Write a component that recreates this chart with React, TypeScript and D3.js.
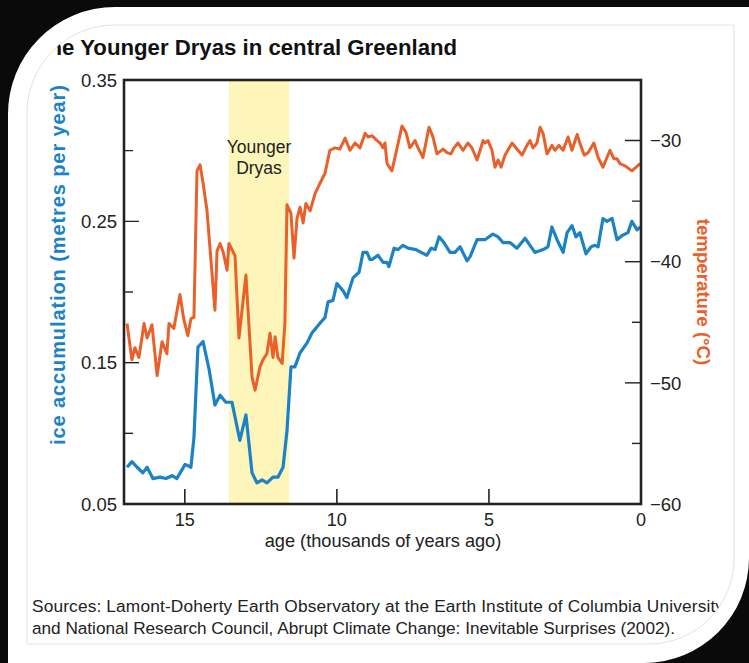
import React from 'react';
import * as d3 from 'd3';

const W = 749;
const H = 663;

// axis ticks
const ageTicks = [15, 10, 5, 0];
const accLabels = [0.35, 0.25, 0.15, 0.05];
const accMajor = [0.25, 0.15];
const accMinor = [0.3, 0.2, 0.1];
const tempLabels = [-30, -40, -50, -60];
const tempMajor = [-30, -40, -50];
const tempMinor = [-35, -45, -55];
const youngerDryas = [13.55, 11.57];

// temperature record (°C)
const tempAge = [
  16.9, 16.74, 16.64, 16.51, 16.34, 16.24, 16.08, 15.91, 15.75, 15.59, 15.52, 15.36, 15.16, 15.03, 14.9, 14.8,
  14.7, 14.6, 14.5, 14.4, 14.27, 14.01, 13.94, 13.84, 13.74, 13.61, 13.55, 13.35, 13.22, 12.99, 12.79, 12.69,
  12.53, 12.43, 12.3, 12.2, 12.1, 12.03, 11.94, 11.8, 11.71, 11.64, 11.51, 11.41, 11.31, 11.21, 11.11, 11.02,
  10.88, 10.72, 10.55, 10.39, 10.23, 10.06, 9.9, 9.73, 9.57, 9.4, 9.24, 9.07, 8.98, 8.84, 8.68, 8.58, 8.48,
  8.42, 8.35, 8.19, 8.02, 7.86, 7.73, 7.6, 7.43, 7.33, 7.17, 6.97, 6.84, 6.71, 6.51, 6.38, 6.25, 6.15, 6.02,
  5.85, 5.69, 5.56, 5.39, 5.19, 5.13, 5.03, 4.9, 4.8, 4.7, 4.6, 4.47, 4.24, 4.08, 3.91, 3.75, 3.65, 3.55,
  3.42, 3.32, 3.22, 3.09, 2.93, 2.83, 2.7, 2.56, 2.4, 2.27, 2.1, 2.01, 1.87, 1.74, 1.55, 1.41, 1.25, 1.02,
  0.89, 0.79, 0.69, 0.52, 0.3, 0.16, 0.03,
];
const tempValues = [
  -45.1, -48.1, -47.1, -47.9, -45.1, -46.3, -45.2, -49.4, -46.6, -47.6, -45.1, -45.5, -42.7, -44.8, -46.1, -44.7,
  -44.6, -32.5, -32.0, -33.5, -35.8, -44.0, -39.1, -38.5, -39.2, -40.7, -38.5, -39.5, -46.3, -41.1, -49.5, -50.6,
  -48.7, -48.1, -47.6, -45.9, -47.9, -46.2, -47.9, -48.4, -45.1, -35.3, -36.0, -39.7, -36.4, -35.5, -36.8, -35.2,
  -35.8, -34.4, -33.5, -32.7, -30.8, -30.6, -30.7, -29.8, -30.8, -30.2, -30.6, -29.4, -29.7, -29.6, -30.0, -30.2, -30.6,
  -30.2, -31.9, -32.5, -30.6, -28.8, -29.3, -30.6, -30.0, -30.6, -31.4, -28.9, -29.7, -31.1, -30.7, -31.0, -31.1, -30.6, -30.2,
  -30.8, -30.2, -30.6, -31.6, -30.0, -30.2, -30.0, -30.8, -32.2, -31.6, -32.2, -31.2, -30.2, -30.7, -31.2, -30.4, -30.0, -30.6,
  -30.2, -28.9, -29.4, -31.1, -30.4, -30.8, -30.4, -30.8, -29.7, -30.8, -29.5, -30.2, -31.2, -31.0, -30.2, -31.4, -32.2, -30.8,
  -31.5, -31.5, -31.9, -32.1, -32.5, -32.2, -31.9,
];

// ice accumulation record (metres per year)
const iceAge = [
  16.9, 16.74, 16.57, 16.38, 16.24, 16.05, 15.82, 15.62, 15.42, 15.26, 14.99, 14.8, 14.7, 14.57, 14.4, 14.2,
  14.01, 13.84, 13.65, 13.45, 13.19, 12.99, 12.79, 12.63, 12.46, 12.3, 12.1, 11.94, 11.77, 11.64, 11.51, 11.38,
  11.21, 10.98, 10.82, 10.55, 10.39, 10.29, 10.13, 10.0, 9.8, 9.67, 9.47, 9.27, 9.14, 9.01, 8.91, 8.84, 8.65,
  8.48, 8.35, 8.29, 8.12, 7.99, 7.83, 7.66, 7.4, 7.23, 7.04, 6.9, 6.77, 6.64, 6.48, 6.28, 6.12, 5.95, 5.72,
  5.62, 5.39, 5.13, 4.87, 4.7, 4.54, 4.31, 4.08, 3.81, 3.65, 3.49, 3.22, 3.06, 2.93, 2.76, 2.56, 2.43, 2.27,
  2.14, 2.01, 1.81, 1.64, 1.51, 1.41, 1.25, 1.12, 0.95, 0.79, 0.62, 0.43, 0.3, 0.13, 0.03,
];
const iceValues = [
  0.076, 0.08, 0.076, 0.072, 0.076, 0.068, 0.069, 0.068, 0.07, 0.068, 0.078, 0.076, 0.097, 0.161, 0.165, 0.145,
  0.12, 0.127, 0.122, 0.122, 0.095, 0.113, 0.072, 0.065, 0.067, 0.065, 0.069, 0.069, 0.076, 0.102, 0.147, 0.147,
  0.157, 0.164, 0.171, 0.178, 0.182, 0.193, 0.194, 0.206, 0.201, 0.196, 0.21, 0.214, 0.228, 0.228, 0.223, 0.223, 0.226,
  0.221, 0.221, 0.218, 0.231, 0.23, 0.233, 0.231, 0.23, 0.228, 0.226, 0.231, 0.23, 0.239, 0.235, 0.228, 0.228, 0.232, 0.222,
  0.225, 0.237, 0.237, 0.241, 0.239, 0.235, 0.235, 0.231, 0.238, 0.233, 0.228, 0.23, 0.232, 0.246, 0.237, 0.228, 0.242, 0.247,
  0.239, 0.242, 0.227, 0.232, 0.233, 0.232, 0.252, 0.25, 0.252, 0.237, 0.24, 0.242, 0.25, 0.244, 0.246,
];

const FONT = 'Liberation Sans, Arial, Helvetica, sans-serif';
const BLUE = '#1b83c5';
const ORANGE = '#e9602a';
const BAND = '#fdf5ba';
const AXIS = '#222';

const plot = { left: 124, right: 641, top: 80, bottom: 504 };

const fmtTemp = (v: number) => (v < 0 ? '\u2212' + Math.abs(v) : String(v));

export default function App() {
  const x = d3.scaleLinear().domain([17, 0]).range([plot.left, plot.right]);
  const yAcc = d3.scaleLinear().domain([0.05, 0.35]).range([plot.bottom, plot.top]);
  const yTemp = d3.scaleLinear().domain([-60, -25]).range([plot.bottom, plot.top]);

  const tempLine = d3.line<number>()
    .x((_, i) => x(tempAge[i]))
    .y(d => yTemp(d));
  const iceLine = d3.line<number>()
    .x((_, i) => x(iceAge[i]))
    .y(d => yAcc(d));

  // photographed screen: outer card edge and the picture's own rounded border
  const outerCard = `M 8 115 A 107 107 0 0 1 115 7 L ${W} 7 L ${W} 558 A 105 105 0 0 1 644 ${H} L 8 ${H} Z`;
  const innerCard = 'M 27 113 A 88 88 0 0 1 115 25 L 734 25 L 734 559 A 85 85 0 0 1 649 644 L 27 644 Z';

  return (
    <svg width={W} height={H} style={{ position: 'absolute', left: 0, top: 0 }} fontFamily={FONT}>
      <defs>
        <clipPath id="inner-clip">
          <path d={innerCard} />
        </clipPath>
        <clipPath id="title-clip">
          <rect x={56.5} y={20} width={680} height={50} />
        </clipPath>
      </defs>
      <rect width={W} height={H} fill="#0a0a0a" />
      <path d={outerCard} fill="#fff" />
      <path d={innerCard} fill="none" stroke="#e2e2e2" strokeWidth={1} />

      <g clipPath="url(#inner-clip)">
        <g clipPath="url(#title-clip)">
          <text x={35} y={54.5} fontSize={22.2} fontWeight="bold" fill="#111">
            The Younger Dryas in central Greenland
          </text>
        </g>

        {/* Younger Dryas band */}
        <rect
          x={x(youngerDryas[0])}
          y={plot.top}
          width={x(youngerDryas[1]) - x(youngerDryas[0])}
          height={plot.bottom - plot.top}
          fill={BAND}
        />
        <text x={259} y={153} fontSize={17.5} textAnchor="middle" fill="#222">Younger</text>
        <text x={259} y={174} fontSize={17.5} textAnchor="middle" fill="#222">Dryas</text>

        {/* series */}
        <path d={tempLine(tempValues) ?? ''} fill="none" stroke={ORANGE} strokeWidth={3} strokeLinejoin="round" />
        <path d={iceLine(iceValues) ?? ''} fill="none" stroke={BLUE} strokeWidth={3.2} strokeLinejoin="round" />

        {/* ticks */}
        {ageTicks.filter(t => t !== 0).map(t => (
          <line key={'xt' + t} x1={x(t)} x2={x(t)} y1={plot.bottom} y2={plot.bottom - 15} stroke={AXIS} strokeWidth={1.6} />
        ))}
        {accMajor.map(t => (
          <line key={'am' + t} x1={plot.left} x2={plot.left + 15} y1={yAcc(t)} y2={yAcc(t)} stroke={AXIS} strokeWidth={1.4} />
        ))}
        {accMinor.map(t => (
          <line key={'an' + t} x1={plot.left} x2={plot.left + 9} y1={yAcc(t)} y2={yAcc(t)} stroke={AXIS} strokeWidth={1.4} />
        ))}
        {tempMajor.map(t => (
          <line key={'tm' + t} x1={plot.right} x2={plot.right - 16} y1={yTemp(t)} y2={yTemp(t)} stroke={AXIS} strokeWidth={1.4} />
        ))}
        {tempMinor.map(t => (
          <line key={'tn' + t} x1={plot.right} x2={plot.right - 9} y1={yTemp(t)} y2={yTemp(t)} stroke={AXIS} strokeWidth={1.4} />
        ))}

        {/* frame */}
        <rect
          x={plot.left}
          y={plot.top}
          width={plot.right - plot.left}
          height={plot.bottom - plot.top}
          fill="none"
          stroke={AXIS}
          strokeWidth={2.6}
        />

        {/* tick labels */}
        {ageTicks.map(t => (
          <text key={'xl' + t} x={x(t)} y={525.5} fontSize={18} textAnchor="middle" fill="#222">{t}</text>
        ))}
        {accLabels.map(t => (
          <text key={'al' + t} x={117} y={yAcc(t)} dy="0.36em" fontSize={18.5} textAnchor="end" fill="#222">
            {t.toFixed(2)}
          </text>
        ))}
        {tempLabels.map(t => (
          <text key={'tl' + t} x={650} y={yTemp(t)} dy="0.36em" fontSize={18.5} textAnchor="start" fill="#222">
            {fmtTemp(t)}
          </text>
        ))}

        {/* axis titles */}
        <text x={383} y={546.5} fontSize={18.2} textAnchor="middle" fill="#222">age (thousands of years ago)</text>
        <text
          transform="translate(65,265) rotate(-90)"
          fontSize={20}
          fontWeight="bold"
          textAnchor="middle"
          fill={BLUE}
          textLength={360}
          lengthAdjust="spacing"
        >
          ice accumulation (metres per year)
        </text>
        <text
          transform="translate(697,292) rotate(90)"
          fontSize={18.7}
          fontWeight="bold"
          textAnchor="middle"
          fill={ORANGE}
        >
          temperature (°C)
        </text>

        {/* sources */}
        <text x={32} y={612} fontSize={17.3} fill="#222" textLength={692} lengthAdjust="spacing">
          Sources: Lamont-Doherty Earth Observatory at the Earth Institute of Columbia University
        </text>
        <text x={32} y={634} fontSize={17.2} fill="#222" textLength={643} lengthAdjust="spacing">
          and National Research Council, Abrupt Climate Change: Inevitable Surprises (2002).
        </text>
      </g>
    </svg>
  );
}
